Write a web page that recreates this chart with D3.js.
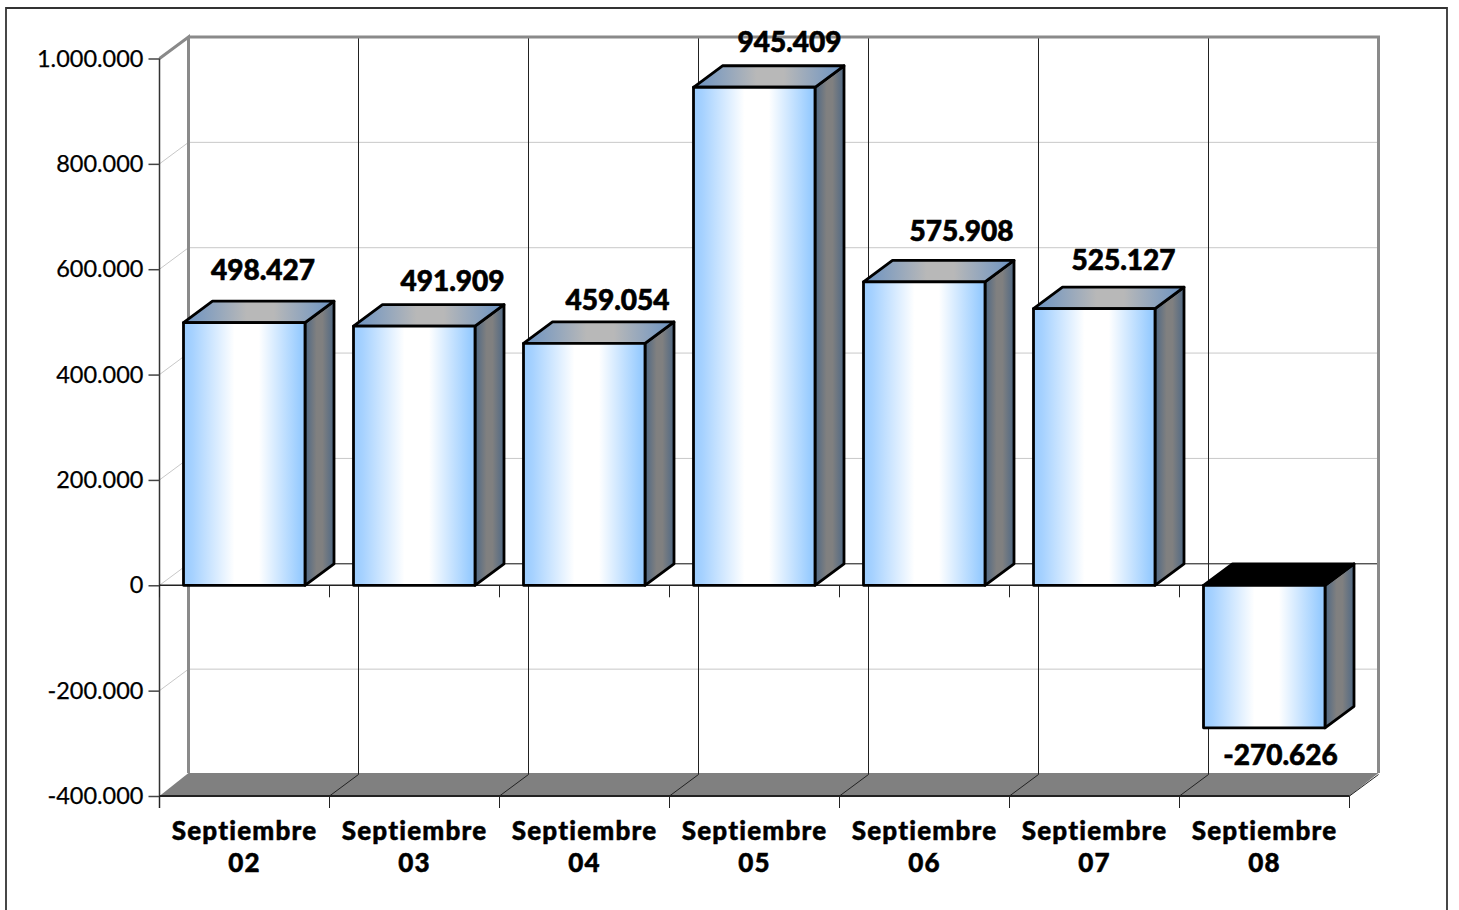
<!DOCTYPE html>
<html>
<head>
<meta charset="utf-8">
<script src="https://cdn.jsdelivr.net/npm/d3@7"></script>
<style>
  html, body { margin: 0; padding: 0; background: #fff; overflow: hidden; }
  svg { display: block; font-family: Lato, sans-serif; }
</style>
</head>
<body>
<svg id="chart" width="1459" height="910"></svg>
<script>
const categories = ["Septiembre 02", "Septiembre 03", "Septiembre 04", "Septiembre 05", "Septiembre 06", "Septiembre 07", "Septiembre 08"];
const values = [498427, 491909, 459054, 945409, 575908, 525127, -270626];
const yTicks = [-400000, -200000, 0, 200000, 400000, 600000, 800000, 1000000];

// labels were hand placed in the original, so each one has its own nudge
const labelDx = [18.5, 38, 33, 35, 37, 29, 16];
const labelDy = [-43, -35, -33, -35, -41, -39, 37];

const depthX = 29, depthY = -21.5;
const barWidth = 121.5;

const svg = d3.select("#chart");
const x = d3.scaleBand().domain(categories).range([159.5, 1349.5]);
const y = d3.scaleLinear().domain([-400000, 1000000]).range([796, 58.5]);
const fmt = d3.formatLocale({ decimal: ",", thousands: ".", grouping: [3], currency: ["", ""], minus: "-" }).format(",d");

const defs = svg.append("defs");
function gradient(id, stops) {
  const g = defs.append("linearGradient").attr("id", id);
  stops.forEach(s => g.append("stop").attr("offset", s[0]).attr("stop-color", s[1]));
}
gradient("front", [[0, "#99ccff"], [0.07, "#a5d1ff"], [0.42, "#ffffff"], [0.62, "#ffffff"], [0.96, "#99ccff"], [1, "#99ccff"]]);
gradient("side", [[0, "#4f6884"], [0.4, "#808080"], [0.6, "#808080"], [1, "#4f6884"]]);
gradient("top", [[0, "#6a92c2"], [0.42, "#b8b8b8"], [0.6, "#b8b8b8"], [1, "#6a92c2"]]);

const poly = pts => "M" + pts.map(p => p.join(",")).join("L") + "Z";

// outer frame, runs off the bottom of the picture
svg.append("path")
  .attr("d", "M6,912V8H1447V912")
  .attr("fill", "none")
  .attr("stroke", "#333")
  .attr("stroke-width", 1.8);

const x0 = x.range()[0], x1 = x.range()[1];
const yTop = y(1000000), yBot = y(-400000);

// floor
svg.append("path")
  .attr("d", poly([[x0, yBot], [x0 + depthX, yBot + depthY - 1.5], [x1 + depthX, yBot + depthY - 1.5], [x1, yBot]]))
  .attr("fill", "#808080");

// grid on the side wall and the back wall
svg.append("g").selectAll("path")
  .data(yTicks.filter(d => d > -400000 && d < 1000000))
  .join("path")
  .attr("d", d => `M${x0},${y(d)}L${x0 + depthX},${y(d) + depthY}H${x1 + depthX}`)
  .attr("fill", "none")
  .attr("stroke", "#c8c8c8")
  .attr("stroke-width", 1);

svg.append("path")
  .attr("d", `M${x0 + depthX},${y(0) + depthY}H${x1 + depthX}`)
  .attr("stroke", "#222")
  .attr("stroke-width", 1);

// vertical lines on the back wall, floor diagonals
svg.append("g").selectAll("path")
  .data(categories.slice(1))
  .join("path")
  .attr("d", d => `M${x(d) + depthX},${yTop + depthY}V${yBot + depthY}L${x(d)},${yBot}`)
  .attr("fill", "none")
  .attr("stroke", "#222")
  .attr("stroke-width", 1);

// thick back wall outline
svg.append("path")
  .attr("d", `M${x0},${yTop}L${x0 + depthX},${yTop + depthY}V${yBot + depthY - 1.5}M${x0 + depthX},${yTop + depthY}H${x1 + depthX}V${yBot + depthY - 1.5}`)
  .attr("fill", "none")
  .attr("stroke", "#8a8a8a")
  .attr("stroke-width", 3);
svg.append("path")
  .attr("d", `M${x1 + depthX},${yBot + depthY}L${x1},${yBot}`)
  .attr("stroke", "#222")
  .attr("stroke-width", 1);

// axes on the front plane
const yAxis = d3.axisLeft(y).tickValues(yTicks).tickFormat(fmt).tickSize(11).tickPadding(5);
const axisY = svg.append("g").attr("transform", `translate(${x0},0)`).call(yAxis);
axisY.select(".domain").attr("stroke", "#333").attr("stroke-width", 1.5)
  .attr("d", `M0,${yTop}V${yBot + 12}`);
axisY.selectAll(".tick line").attr("stroke", "#444").attr("stroke-width", 1.5);
axisY.selectAll("text")
  .attr("font-size", 23.5)
  .attr("fill", "#000")
  .attr("stroke", "#000")
  .attr("stroke-width", 0.25)
  .attr("font-family", "Lato");

const edges = categories.map(d => x(d)).concat([x1]);

function xAxisAt(yPos) {
  const g = svg.append("g");
  g.append("path")
    .attr("d", `M${x0},${yPos}H${x1}`)
    .attr("stroke", "#222")
    .attr("stroke-width", yPos === yBot ? 2.2 : 1.5);
  g.selectAll("line")
    .data(edges)
    .join("line")
    .attr("x1", d => d).attr("x2", d => d)
    .attr("y1", yPos).attr("y2", yPos + 12)
    .attr("stroke", "#222")
    .attr("stroke-width", 1);
}
xAxisAt(y(0));
xAxisAt(yBot);

// bars: side, top, then front
const bars = svg.append("g").selectAll("g")
  .data(categories.map((c, i) => ({ c, v: values[i], i })))
  .join("g")
  .attr("stroke", "#000")
  .attr("stroke-width", 2.8)
  .attr("stroke-linejoin", "round");

const left = d => x(d.c) + (x.bandwidth() - barWidth) / 2 - 0.25;
const upper = d => y(Math.max(d.v, 0));
const lower = d => y(Math.min(d.v, 0));

bars.append("path")
  .attr("fill", "url(#side)")
  .attr("d", d => {
    const r = left(d) + barWidth;
    return poly([[r, upper(d)], [r + depthX, upper(d) + depthY], [r + depthX, lower(d) + depthY], [r, lower(d)]]);
  });
bars.append("path")
  .attr("fill", d => d.v < 0 ? "#000" : "url(#top)")
  .attr("d", d => {
    const l = left(d), r = l + barWidth;
    return poly([[l, upper(d)], [l + depthX, upper(d) + depthY], [r + depthX, upper(d) + depthY], [r, upper(d)]]);
  });
bars.append("rect")
  .attr("fill", "url(#front)")
  .attr("x", left)
  .attr("y", upper)
  .attr("width", barWidth)
  .attr("height", d => lower(d) - upper(d));

// value labels
svg.append("g").selectAll("text")
  .data(categories.map((c, i) => ({ c, v: values[i], i })))
  .join("text")
  .attr("x", d => x(d.c) + x.bandwidth() / 2 + labelDx[d.i])
  .attr("y", d => y(d.v) + labelDy[d.i])
  .attr("text-anchor", "middle")
  .attr("font-size", 28)
  .attr("font-weight", 900)
  .attr("fill", "#000")
  .attr("stroke", "#000")
  .attr("stroke-width", 0.6)
  .text(d => fmt(d.v));

// category labels on two lines
const catLabels = svg.append("g").selectAll("text")
  .data(categories)
  .join("text")
  .attr("text-anchor", "middle")
  .attr("font-size", 26)
  .attr("font-weight", 900)
  .attr("letter-spacing", 1.2)
  .attr("fill", "#000")
  .attr("stroke", "#000")
  .attr("stroke-width", 0.5);
catLabels.selectAll("tspan")
  .data(d => d.split(" ").map(t => ({ t, c: d })))
  .join("tspan")
  .attr("x", d => x(d.c) + x.bandwidth() / 2)
  .attr("y", (d, i) => i === 0 ? 840 : 872)
  .text(d => d.t);
</script>
</body>
</html>
